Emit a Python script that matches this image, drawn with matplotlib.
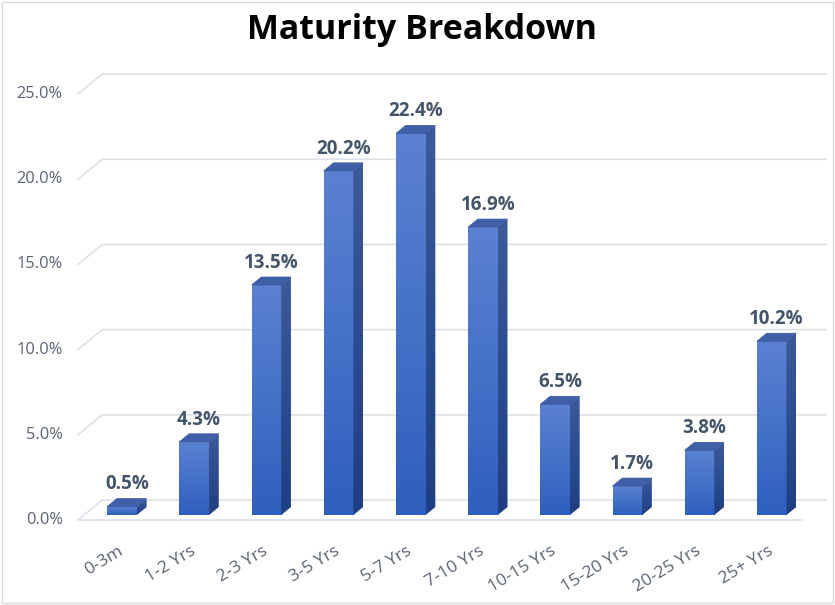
import matplotlib.pyplot as plt
import numpy as np
from matplotlib.colors import LinearSegmentedColormap
from matplotlib.patches import Polygon, Rectangle

# chart data
categories = ["0-3m", "1-2 Yrs", "2-3 Yrs", "3-5 Yrs", "5-7 Yrs", "7-10 Yrs",
              "10-15 Yrs", "15-20 Yrs", "20-25 Yrs", "25+ Yrs"]
values = [0.5, 4.3, 13.5, 20.2, 22.4, 16.9, 6.5, 1.7, 3.8, 10.2]
y_ticks = [0, 5, 10, 15, 20, 25]
title = "Maturity Breakdown"

FONT = ["Open Sans", "DejaVu Sans"]
GRID = "#dde1e8"
TICK_COLOR = "#5a6373"
LABEL_COLOR = "#44546a"

# 3d look: offsets in data units (x = category units, y = percent)
BAR_W = 0.41
BAR_DX, BAR_DY = 0.135, 0.47     # bar depth
BAR_BASE = 0.29                   # bars sit a little behind the front floor edge
WALL_DX, WALL_DY = 0.335, 1.17    # back wall offset
X_LO, X_HI = -0.61, 9.42

front_cmap = LinearSegmentedColormap.from_list("front", ["#5b80d1", "#4472c8", "#2f5fbf"])
side_cmap = LinearSegmentedColormap.from_list("side", ["#3d5a98", "#2c4c91", "#203f82"])
grad = np.linspace(0, 1, 64).reshape(-1, 1)

fig = plt.figure(figsize=(8.35, 6.05), dpi=100)
ax = fig.add_axes([78 / 835, (605 - 520) / 605, 724 / 835, 426 / 605])
ax.set_xlim(X_LO, X_HI)
ax.set_ylim(0, 25)
ax.axis("off")

# back wall gridlines with the slanted side segment
for t in y_ticks:
    ax.plot([X_LO, X_LO + WALL_DX, X_HI + WALL_DX], [t, t + WALL_DY, t + WALL_DY],
            color=GRID, lw=1.2, clip_on=False, zorder=1)
    ax.text(X_LO - 0.21, t, f"{t:.1f}%", ha="right", va="center", fontsize=11.8,
            color=TICK_COLOR, family=FONT)
# front floor edge
ax.plot([X_LO, X_HI], [0, 0], color=GRID, lw=1.2, clip_on=False, zorder=1)

for i, v in enumerate(values):
    x0, x1 = i - BAR_W / 2, i + BAR_W / 2
    y0, y1 = BAR_BASE, BAR_BASE + v

    # front face with vertical gradient
    ax.imshow(grad, cmap=front_cmap, extent=(x0, x1, y0, y1), aspect="auto",
              origin="upper", zorder=3, interpolation="bicubic")

    # side face
    side = Polygon([(x1, y0), (x1 + BAR_DX, y0 + BAR_DY), (x1 + BAR_DX, y1 + BAR_DY), (x1, y1)],
                   closed=True, facecolor="none", edgecolor="none", zorder=3)
    ax.add_patch(side)
    im = ax.imshow(grad, cmap=side_cmap, extent=(x1, x1 + BAR_DX, y0, y1 + BAR_DY),
                   aspect="auto", origin="upper", zorder=3, interpolation="bicubic")
    im.set_clip_path(side)

    # top face
    ax.add_patch(Polygon([(x0, y1), (x1, y1), (x1 + BAR_DX, y1 + BAR_DY), (x0 + BAR_DX, y1 + BAR_DY)],
                         closed=True, facecolor="#3f5fa8", edgecolor="#3a5aa0", lw=0.5, zorder=4))

    ax.text(i + BAR_DX / 2, y1 + BAR_DY + 0.25, f"{v:.1f}%", ha="center", va="bottom",
            fontsize=13.5, fontweight="bold", color=LABEL_COLOR, family=FONT)

    ax.text(i - 0.06, -1.35, categories[i], ha="right", va="top", rotation=31,
            rotation_mode="anchor", fontsize=12.5, color=TICK_COLOR, family=FONT)

ax.set_xlim(X_LO, X_HI)
ax.set_ylim(0, 25)

fig.text(0.505, 0.950, title, ha="center", va="center", fontsize=24.5,
         fontweight="bold", color="black", family=FONT)

# thin chart area border
fig.patches.append(Rectangle((0.002, 0.003), 0.996, 0.994, transform=fig.transFigure,
                             fill=False, edgecolor="#d9d9d9", lw=1))

fig.savefig("out.png", dpi=100)
